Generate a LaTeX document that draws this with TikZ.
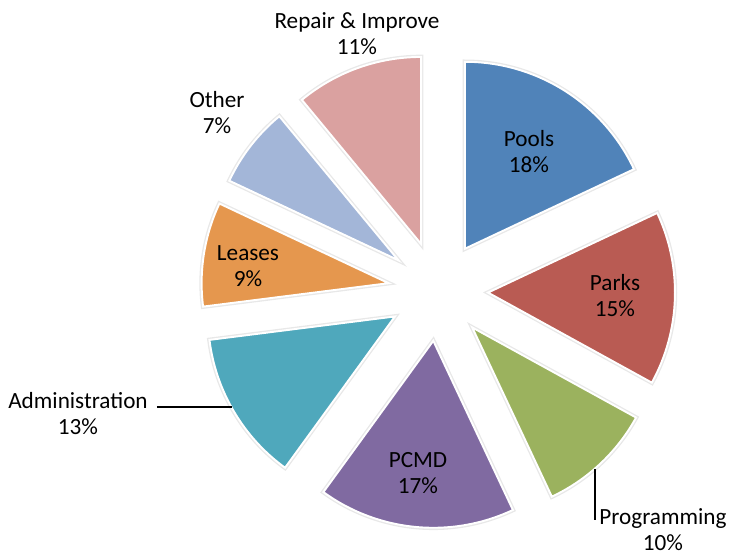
\documentclass[tikz,border=0pt]{standalone}
\usepackage{fontspec}
\setmainfont{Carlito}
\usetikzlibrary{calc}

\definecolor{pools}{HTML}{5083B9}
\definecolor{parks}{HTML}{B95B53}
\definecolor{progr}{HTML}{9BB25E}
\definecolor{pcmd}{HTML}{806AA1}
\definecolor{admin}{HTML}{4FA8BC}
\definecolor{leases}{HTML}{E5974E}
\definecolor{other}{HTML}{A3B6D8}
\definecolor{repair}{HTML}{DAA1A0}

\begin{document}
\begin{tikzpicture}[x=0.02cm,y=0.02cm,
  slice/.style={fill=#1, draw=white, line width=1.1pt,
    preaction={draw=black!9, line width=2.6pt}},
  lbl/.style={align=center, inner sep=2pt, font=\fontsize{13.2}{14.8}\selectfont}]
\useasboundingbox (0,0) rectangle (730,556);
\coordinate (c) at (438,265);

% exploded slices, clockwise from the top
\foreach \s/\e/\col in {25.2/90/pools, -28.8/25.2/parks, -64.8/-28.8/progr,
    -126/-64.8/pcmd, -172.8/-126/admin, -205.2/-172.8/leases,
    -230.4/-205.2/other, -270/-230.4/repair}{
  \pgfmathsetmacro\bis{(\s+\e)/2}
  \draw[slice=\col] ($(c)+(\bis:50)$) -- ++(\s:187)
    arc[start angle=\s, end angle=\e, radius=187] -- cycle;
}

\node[lbl] (poolslbl) at (529,404) {Pools\\18\%};
\node[lbl] (parkslbl) at (615,260) {Parks\\15\%};
\node[lbl] (pcmdlbl) at (418,83) {PCMD\\17\%};
\node[lbl] (leaseslbl) at (248,290) {Leases\\9\%};
\node[lbl] (otherlbl) at (217,443) {Other\\7\%};
\node[lbl] (repairlbl) at (357,522) {Repair \& Improve\\11\%};
\node[lbl] (adminlbl) at (78,142) {Administration\\13\%};
\node[lbl] (proglbl) at (663,26) {Programming\\10\%};

% leader lines
\coordinate (admintip) at (232,149);
\draw[line width=0.6pt] ([xshift=3pt]adminlbl.east |- admintip) -- (admintip);
\coordinate (progtip) at (595,87);
\coordinate (progfoot) at (595,36);
\draw[line width=0.6pt] (progtip) -- (progfoot);
\end{tikzpicture}
\end{document}
